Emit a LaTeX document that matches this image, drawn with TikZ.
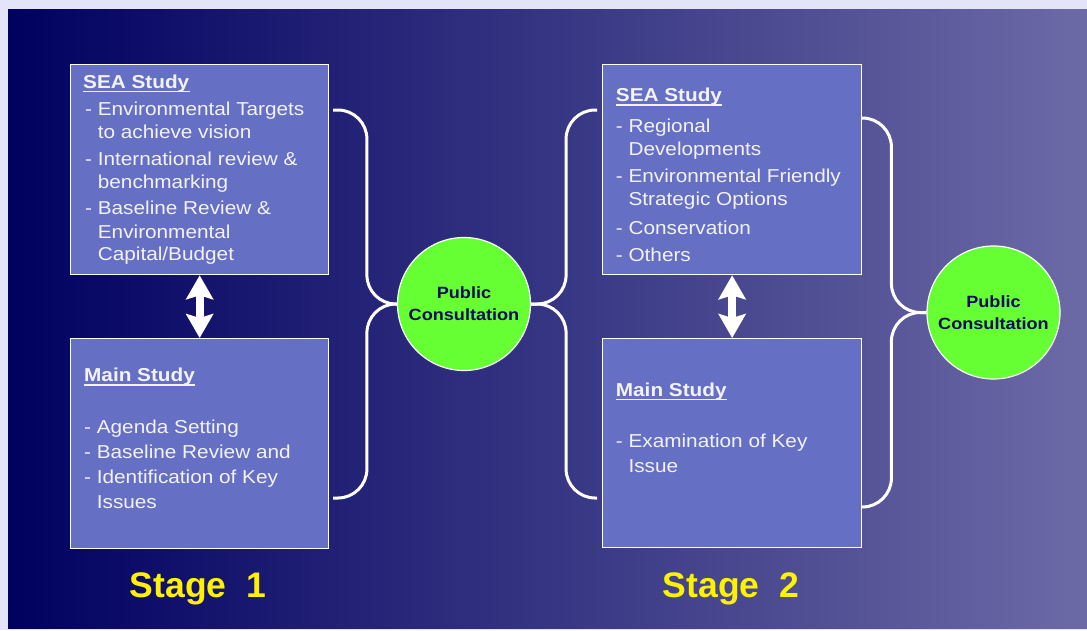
\documentclass[tikz,border=0pt]{standalone}
\usepackage{fontspec}
\setmainfont{Liberation Sans}
\newfontfamily\bodyf[FakeStretch=1.11]{Liberation Sans}
\usetikzlibrary{arrows.meta}
\definecolor{framec}{RGB}{228,228,248}
\definecolor{bgL}{RGB}{0,0,96}
\definecolor{bgM}{RGB}{64,62,124}
\definecolor{bgR}{RGB}{108,106,166}
\definecolor{boxfill}{RGB}{101,112,196}
\definecolor{pcfill}{RGB}{102,255,51}
\definecolor{pctext}{RGB}{12,12,92}
\definecolor{txtc}{RGB}{242,242,248}
\newcommand\ind{\hphantom{- }}
\tikzset{
  stbox/.style={draw=white, line width=1.3pt, fill=boxfill, rectangle, anchor=north west,
    minimum width=258pt, minimum height=210pt, inner sep=0pt},
  txt/.style={anchor=base west, inner sep=0pt, text=txtc, font=\bodyf\fontsize{18.7}{22}\selectfont},
  ttl/.style={txt, font=\bodyf\bfseries\fontsize{18.7}{22}\selectfont},
  ul/.style={draw=txtc, line width=1.4pt},
  pc/.style={circle, draw=white, line width=1.2pt, fill=pcfill, minimum size=133pt, inner sep=0pt,
    align=center, text=pctext, font=\bodyf\bfseries\fontsize{16.3}{22}\selectfont},
  brace/.style={draw=white, line width=3pt, rounded corners=29pt},
  dbl/.style={draw=white, line width=8pt, {Stealth[length=24pt,width=27pt,inset=4pt]}-{Stealth[length=24pt,width=27pt,inset=4pt]}},
  stage/.style={anchor=base, inner sep=0pt, text=yellow, font=\bfseries\fontsize{35.5}{40}\selectfont}
}
\newcommand\bxline[4]{\node[txt] (#1) at (#2,#3) {#4};}
\begin{document}
\begin{tikzpicture}[x=1pt,y=-1pt]
\useasboundingbox (0,0) rectangle (1087,630);
\fill[framec] (0,0) rectangle (1087,630);
\shade[left color=bgL, middle color=bgM, right color=bgR] (8,9) rectangle (1087,628);

% boxes
\node[stbox] (sea1) at (70,64) {};
\node[stbox] (main1) at (70,338) {};
\node[stbox, minimum width=259pt] (sea2) at (602,64) {};
\node[stbox, minimum width=259pt, minimum height=209pt] (main2) at (602,338) {};

% box texts stage 1
\node[ttl] (sea1h) at (83,88) {SEA Study};
\draw[ul] ([yshift=-3.3pt]sea1h.base west) -- ([yshift=-3.3pt]sea1h.base east);
\bxline{a1}{85}{115}{- Environmental Targets}
\bxline{a2}{85}{138}{\ind to achieve vision}
\bxline{a3}{85}{165}{- International review \&}
\bxline{a4}{85}{188}{\ind benchmarking}
\bxline{a5}{85}{214}{- Baseline Review \&}
\bxline{a6}{85}{238}{\ind Environmental}
\bxline{a7}{85}{260}{\ind Capital/Budget}

\node[ttl] (main1h) at (84,381.7) {Main Study};
\draw[ul] ([yshift=-3.3pt]main1h.base west) -- ([yshift=-3.3pt]main1h.base east);
\bxline{b1}{84}{433}{- Agenda Setting}
\bxline{b2}{84}{458}{- Baseline Review and}
\bxline{b3}{84}{483}{- Identification of Key}
\bxline{b4}{84}{508}{\ind Issues}

% box texts stage 2
\node[ttl] (sea2h) at (615.7,101.7) {SEA Study};
\draw[ul] ([yshift=-3.3pt]sea2h.base west) -- ([yshift=-3.3pt]sea2h.base east);
\bxline{c1}{615.7}{132.7}{- Regional}
\bxline{c2}{615.7}{155}{\ind Developments}
\bxline{c3}{615.7}{182.7}{- Environmental Friendly}
\bxline{c4}{615.7}{205.7}{\ind Strategic Options}
\bxline{c5}{615.7}{234}{- Conservation}
\bxline{c6}{615.7}{261.7}{- Others}

\node[ttl] (main2h) at (615.7,396) {Main Study};
\draw[ul] ([yshift=-3.3pt]main2h.base west) -- ([yshift=-3.3pt]main2h.base east);
\bxline{d1}{615.7}{447.3}{- Examination of Key}
\bxline{d2}{615.7}{472.3}{\ind Issue}

% public consultation circles
\node[pc] (pc1) at (464,304) {Public\\Consultation};
\node[pc] (pc2) at (993.5,312.5) {Public\\Consultation};

% braces
\coordinate (b1t) at (333,110);
\coordinate (b1b) at (333,498);
\coordinate (b2t) at (597,110);
\coordinate (b2b) at (597,498);
\coordinate (b3t) at (862,118);
\coordinate (b3b) at (862,507);
\draw[brace] (b1t) -| ([xshift=-30pt]pc1.west) -- (pc1.west);
\draw[brace] (b1b) -| ([xshift=-30pt]pc1.west) -- (pc1.west);
\draw[brace] (b2t) -| ([xshift=35pt]pc1.east) -- (pc1.east);
\draw[brace] (b2b) -| ([xshift=35pt]pc1.east) -- (pc1.east);
\draw[brace] (b3t) -| ([xshift=-35pt]pc2.west) -- (pc2.west);
\draw[brace] (b3b) -| ([xshift=-35pt]pc2.west) -- (pc2.west);

% double arrows
\draw[dbl] (sea1.south) -- (main1.north);
\draw[dbl] (sea2.south) -- (main2.north);

% stage labels
\node[stage] (st1) at (198,597) {Stage\ \ 1};
\node[stage] (st2) at (731,597) {Stage\ \ 2};
\end{tikzpicture}
\end{document}
